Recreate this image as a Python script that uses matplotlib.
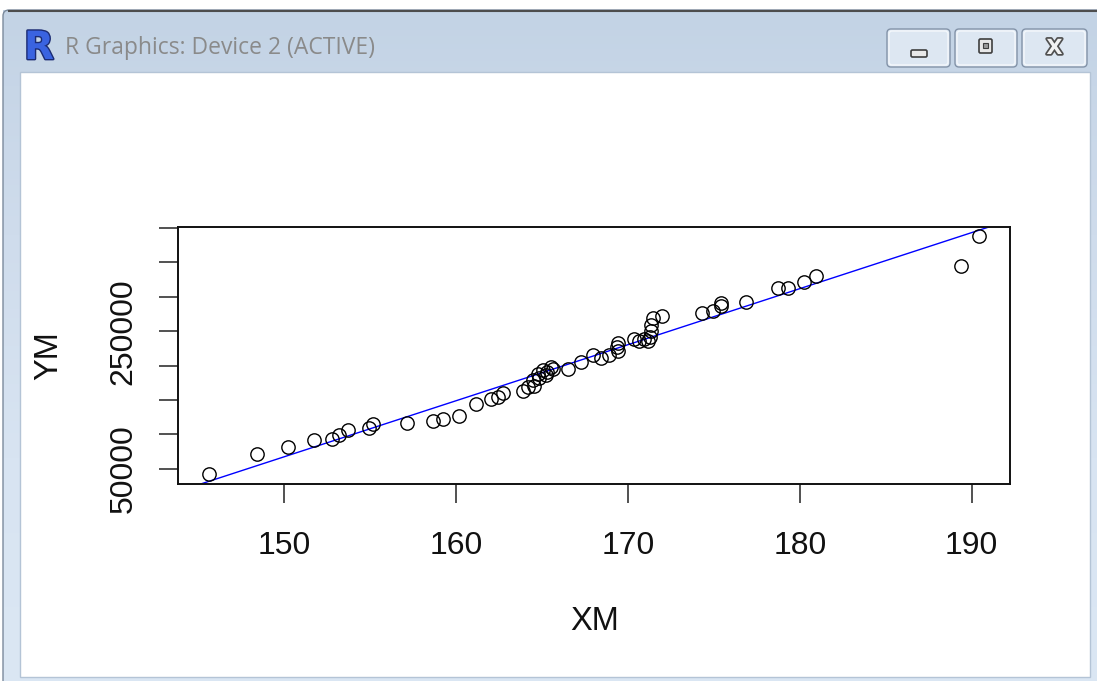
"""R Graphics device window: scatter of YM vs XM with fitted line."""
import matplotlib
matplotlib.use('Agg')
import matplotlib.pyplot as plt
import matplotlib.patheffects as pe
from matplotlib.patches import Rectangle, FancyBboxPatch
from matplotlib import font_manager
import numpy as np

# ---- data ----
XM = [145.63, 148.44, 150.23, 151.75, 152.78, 153.16, 153.74, 154.91, 155.14, 157.13,
      158.64, 159.22, 160.19, 161.15, 162.04, 162.42, 162.71, 163.92, 164.17, 164.56,
      164.46, 164.85, 164.75, 165.24, 165.04, 165.53, 165.63, 165.32, 166.54, 167.28,
      167.96, 168.44, 168.87, 169.41, 169.41, 169.34, 170.38, 170.62, 170.91, 171.14,
      171.26, 171.32, 171.36, 171.45, 171.96, 174.29, 174.94, 175.43, 175.43, 176.87,
      178.73, 179.31, 180.24, 180.97, 189.41, 190.44]
YM = [41500, 70800, 82100, 91300, 93800, 99600, 105900, 108400, 114700, 116900,
      119900, 122100, 127200, 143600, 151600, 154700, 160100, 163100, 168500, 170400,
      179200, 181700, 187500, 186500, 193800, 197800, 194800, 190900, 194800, 204800,
      215000, 210900, 215000, 220600, 232900, 227500, 238200, 235300, 238200, 236300,
      241400, 250200, 259700, 269200, 272500, 275800, 279200, 286500, 291500, 292700,
      312400, 312400, 321700, 330500, 344200, 388200]

# abline(lm(YM ~ XM)) coefficients
FIT_INTERCEPT = -1156000
FIT_SLOPE = 8155

XTICKS = [150, 160, 170, 180, 190]
YTICKS = [50000, 100000, 150000, 200000, 250000, 300000, 350000, 400000]
YTICK_LABELS = ['50000', '', '', '', '250000', '', '', '']

TITLE = 'R Graphics: Device 2 (ACTIVE)'

W, H = 1097, 681

names = {f.name for f in font_manager.fontManager.ttflist}
PLOT_FONT = 'Liberation Sans' if 'Liberation Sans' in names else 'DejaVu Sans'
UI_FONT = 'Open Sans' if 'Open Sans' in names else 'DejaVu Sans'

fig = plt.figure(figsize=(W / 100, H / 100), dpi=100)
fig.patch.set_facecolor('white')

# ---- window chrome, drawn in pixel coordinates ----
bg = fig.add_axes([0, 0, 1, 1], zorder=0)
bg.set_xlim(0, W)
bg.set_ylim(H, 0)
bg.axis('off')

grad = np.linspace(0, 1, 256).reshape(-1, 1)
cmap = matplotlib.colors.LinearSegmentedColormap.from_list(
    'frame', ['#c3d3e5', '#cfdcec', '#d8e4f2', '#dbe7f4'])
bg.imshow(grad, extent=(3, W + 2, H + 2, 10), cmap=cmap, aspect='auto', zorder=1)
bg.add_patch(FancyBboxPatch((3, 10), W + 10, H + 10,
                            boxstyle='round,pad=0,rounding_size=6',
                            facecolor='none', edgecolor='#7b8a9c', lw=1, zorder=2))
bg.plot([9, W], [10.5, 10.5], color='#4d4d4d', lw=1.5, zorder=3)

# client area
bg.add_patch(Rectangle((20, 72), 1070, 605, facecolor='white',
                       edgecolor='#b4c4d6', lw=1, zorder=3))

# R icon + title
bg.text(39, 48, 'R', fontsize=28, fontweight='bold', color='#3a63e0',
        family='DejaVu Sans', ha='center', va='center', zorder=4,
        path_effects=[pe.Stroke(linewidth=2, foreground='#1b2b73'), pe.Normal()])
bg.text(65, 47.5, TITLE, fontsize=16.5, color='#8a8a8a', family=UI_FONT,
        ha='left', va='center', zorder=4)

# caption buttons
buttons = [(887, 950), (955, 1017), (1022, 1087)]
for x0, x1 in buttons:
    bg.add_patch(FancyBboxPatch((x0, 29), x1 - x0, 38,
                                boxstyle='round,pad=0,rounding_size=4',
                                facecolor='#dde7f2', edgecolor='#8393a8', lw=1, zorder=4))
    bg.add_patch(FancyBboxPatch((x0 + 2, 31), x1 - x0 - 4, 34,
                                boxstyle='round,pad=0,rounding_size=3',
                                facecolor='none', edgecolor='#f4f8fc', lw=1, zorder=4))
# minimise
bg.add_patch(FancyBboxPatch((911, 50), 16, 7, boxstyle='round,pad=0,rounding_size=1.5',
                            facecolor='#e8e8e8', edgecolor='#3f3f3f', lw=1.2, zorder=5))
# maximise
bg.add_patch(FancyBboxPatch((979, 39), 13, 14, boxstyle='round,pad=0,rounding_size=1.5',
                            facecolor='#e8e8e8', edgecolor='#3f3f3f', lw=1.2, zorder=5))
bg.add_patch(Rectangle((983, 43), 5, 5, facecolor='#9a9a9a', edgecolor='#3f3f3f',
                       lw=0.8, zorder=6))
# close
bg.text(1054.5, 48, 'X', fontsize=15, fontweight='bold', color='#f2f2f2',
        family='DejaVu Sans', ha='center', va='center', zorder=5,
        path_effects=[pe.Stroke(linewidth=2.5, foreground='#505050'), pe.Normal()])

# ---- the plot ----
ax_l, ax_r, ax_t, ax_b = 178.3, 1010, 226.7, 484
ax = fig.add_axes([ax_l / W, (H - ax_b) / H, (ax_r - ax_l) / W, (ax_b - ax_t) / H], zorder=2)
ax.set_facecolor('white')

ax.plot(XM, YM, linestyle='none', marker='o', markersize=9.6,
        markerfacecolor='none', markeredgecolor='black', markeredgewidth=1.0, zorder=3)
ax.axline((150, FIT_INTERCEPT + FIT_SLOPE * 150), slope=FIT_SLOPE,
          color='#0000ff', lw=1.0, zorder=2)

# R style 4% extension
xr = max(XM) - min(XM)
yr = max(YM) - min(YM)
ax.set_xlim(min(XM) - 0.04 * xr, max(XM) + 0.04 * xr)
ax.set_ylim(min(YM) - 0.04 * yr, max(YM) + 0.04 * yr)

ax.set_xticks(XTICKS)
ax.set_xticklabels([str(t) for t in XTICKS])
ax.set_yticks(YTICKS)
ax.set_yticklabels(YTICK_LABELS, rotation=90, va='center')

ax.tick_params(axis='both', direction='out', length=13.5, width=1.1,
               color='#222222', labelsize=23, labelcolor='#111111')
ax.tick_params(axis='x', pad=20)
ax.tick_params(axis='y', pad=15)
for lab in ax.get_xticklabels() + ax.get_yticklabels():
    lab.set_family(PLOT_FONT)

for s in ax.spines.values():
    s.set_linewidth(1.4)
    s.set_color('#111111')

ax.set_xlabel('XM', fontsize=23.5, family=PLOT_FONT, color='#111111', labelpad=33)
ax.set_ylabel('YM', fontsize=23.5, family=PLOT_FONT, color='#111111', labelpad=32)

fig.savefig('out.png', dpi=100)
